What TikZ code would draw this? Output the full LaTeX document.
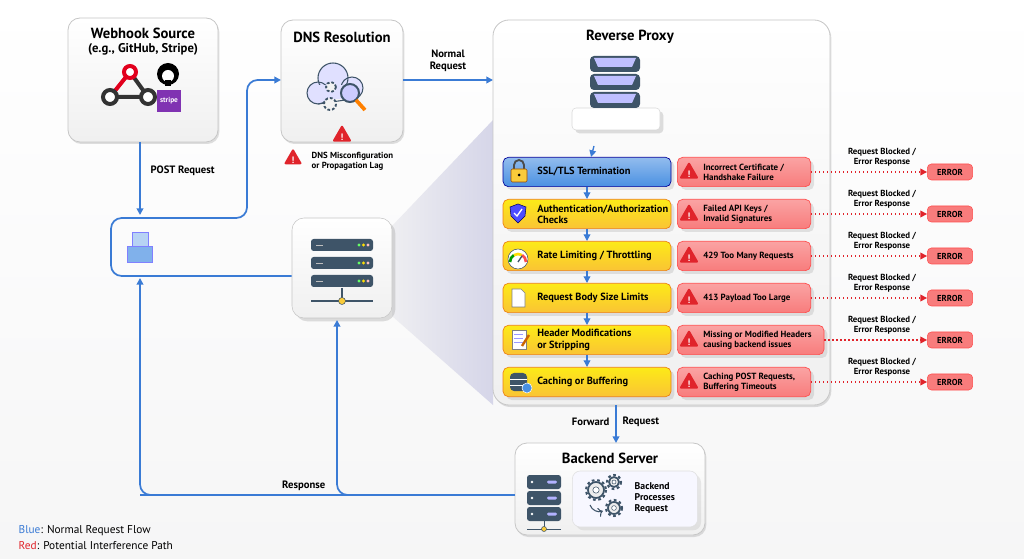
\documentclass[tikz,border=0pt]{standalone}
\usepackage{fontspec}
\setmainfont{PT Sans}
\usetikzlibrary{shapes.geometric,arrows.meta,shadows,calc}
\definecolor{flow}{HTML}{3A7BD5}
\definecolor{errred}{HTML}{E0242B}
\definecolor{redfill}{HTML}{F87C7C}
\definecolor{yel}{HTML}{F9CB3A}
\definecolor{bluest}{HTML}{4A90E2}
\definecolor{slate}{HTML}{3E5468}
\tikzset{
 card/.style={draw=gray!45,line width=0.6pt,rounded corners=9pt,fill=white,top color=white,bottom color=gray!12,drop shadow={opacity=0.25,shadow xshift=1pt,shadow yshift=-1.5pt}},
 stage/.style={draw=orange!70!brown,line width=0.5pt,rounded corners=4pt,top color=yellow!60!yel,bottom color=yel!90!orange,minimum width=126pt,minimum height=22pt,drop shadow={opacity=0.2}},
 stageb/.style={stage,draw=blue!60!black,top color=bluest!60,bottom color=bluest},
 stxt/.style={anchor=west,font=\bfseries\fontsize{7.8}{8.4}\selectfont,align=left,inner sep=0pt},
 err/.style={draw=red!70,line width=0.5pt,rounded corners=4pt,top color=redfill!70,bottom color=redfill,minimum height=22pt,drop shadow={opacity=0.2}},
 etxt/.style={anchor=west,font=\bfseries\fontsize{6.7}{7.5}\selectfont,align=left,inner sep=0pt},
 errbox/.style={draw=red!70,rounded corners=3pt,fill=redfill,minimum width=34pt,minimum height=12pt,font=\bfseries\fontsize{6.5}{7}\selectfont},
 flowa/.style={draw=flow,line width=1.3pt,-{Triangle[length=5pt,width=5pt]}},
 flowl/.style={draw=flow,line width=1.3pt,rounded corners=8pt},
 dotarr/.style={draw=errred,line width=1pt,dotted,-{Triangle[length=5pt,width=5pt]}},
 lbl/.style={font=\bfseries\fontsize{8}{9}\selectfont,align=center},
 ttl/.style={font=\bfseries\fontsize{11}{12}\selectfont,align=center},
 small/.style={font=\bfseries\fontsize{6.6}{7.4}\selectfont,align=center},
 warn/.style={regular polygon,regular polygon sides=3,fill=errred,inner sep=0pt,minimum size=#1,rounded corners=1.5pt},
}
\newcommand{\warnat}[2]{\node[warn=#2] at (#1) {}; \node[text=white,font=\bfseries\fontsize{7}{7}\selectfont] at ($(#1)+(0,1.5)$) {!};}
\newcommand{\srvunit}[3]{% x y width
  \fill[slate,rounded corners=2pt] (#1-#3/2,#2-6) rectangle (#1+#3/2,#2+6);
  \fill[green!60] (#1+#3/2-14,#2) circle (1.6);\fill[yellow!80!orange] (#1+#3/2-9.5,#2) circle (1.6);\fill[pink] (#1+#3/2-5,#2) circle (1.6);
  \draw[gray!50,line width=0.6pt] (#1-#3/2+5,#2)--(#1-#3/2+12,#2);}
\begin{document}
\begin{tikzpicture}[x=0.75pt,y=-0.75pt]
\shade[top color=white,bottom color=blue!2!gray!7] (0,0) rectangle (1024,559);
\useasboundingbox (0,0) rectangle (1024,559);

% cone
\shade[left color=blue!10!gray!12,right color=blue!30!gray!25] (392,226) -- (493,120) -- (493,405) -- (392,316) -- cycle;

% cards
\draw[card] (68,18) rectangle (218,142);
\node[ttl] (wh) at (143,33) {Webhook Source};
\node[font=\bfseries\fontsize{9.5}{10}\selectfont] at (143,49) {(e.g., GitHub, Stripe)};
% webhook icon
\draw[line width=3pt,gray!40!black] (110,97) -- (148,97) (130,72)--(148,97);
\draw[line width=3pt,red!55!purple] (110,97) -- (130,72);
\draw[line width=3pt,red!55!purple,fill=white] (130,72) circle (6);
\draw[line width=3pt,gray!40!black,fill=white] (110,97) circle (7);
\draw[line width=3pt,gray!40!black,fill=white] (148,97) circle (7);
\fill[black] (168,74) circle (11); \fill[white] (168,76) circle (6); \fill[black] (165,80) rectangle (171,86);
\fill[blue!50!purple!80] (157,90) rectangle (181,112); \node[text=white,font=\bfseries\fontsize{5.5}{6}\selectfont] at (169,101) {stripe};

\draw[card] (281,20) rectangle (403,142);
\node[ttl] (dns) at (342,37) {DNS Resolution};
\fill[blue!12,draw=slate,line width=0.8pt] (318,93) circle (11) (333,78) circle (15) (352,88) circle (11);
\fill[blue!12] (318,85) rectangle (352,99);
\draw[slate,line width=0.8pt] (318,104)--(352,99);
\draw[slate,line width=1.4pt,fill=gray!10,dash pattern=on 2pt off 1.5pt] (331,87) circle (5);
\draw[slate,line width=1.4pt,fill=gray!10,dash pattern=on 2pt off 1.5pt] (330,104) circle (6);
\draw[slate,line width=1.5pt,fill=blue!20] (350,93) circle (9);
\draw[orange,line width=2.8pt] (356,100)--(365,110);
\warnat{342,136}{17pt}
\warnat{293,159}{16pt}
\node[small,align=left,anchor=west] (dnsw) at (307,161) {DNS Misconfiguration\\or Propagation Lag};

% reverse proxy
\draw[card,rounded corners=12pt] (493,20) rectangle (830,405);
\node[ttl] (rp) at (630,37) {Reverse Proxy};
\draw[gray!30,fill=white,rounded corners=3pt,drop shadow={opacity=0.25}] (572,108) rectangle (660,130);
\foreach \yy in {64,82,100}{\fill[slate,rounded corners=3pt] (590,\yy-8) rectangle (640,\yy+8);\fill[blue!25] (594,\yy-6) -- (636,\yy-6) -- (632,\yy+3) -- (598,\yy+3)--cycle;}

% stages
\node[stageb] (s1) at (587,172) {};
\node[stage] (s2) at (587,214) {};
\node[stage] (s3) at (587,256) {};
\node[stage] (s4) at (587,298) {};
\node[stage] (s5) at (587,340) {};
\node[stage] (s6) at (587,382) {};
\node[stxt] (t1) at (537,172) {SSL/TLS Termination};
\node[stxt] (t2) at (537,214) {Authentication/Authorization\\Checks};
\node[stxt] (t3) at (537,256) {Rate Limiting / Throttling};
\node[stxt] (t4) at (537,298) {Request Body Size Limits};
\node[stxt] (t5) at (537,340) {Header Modifications\\or Stripping};
\node[stxt] (t6) at (537,382) {Caching or Buffering};
\foreach \a/\b in {s1/s2,s2/s3,s3/s4,s4/s5,s5/s6}{\draw[flowa,line width=1pt] (\a) -- (\b);}
\draw[flowa,line width=1pt] (594,146) -- (s1);
% stage icons
\draw[gray!60!black,line width=1.4pt] (514,170) -- (514,165) arc (180:360:5) -- (524,170);
\fill[yel,draw=orange!60!black,rounded corners=1pt] (511,169) rectangle (527,182);
\fill[black] (519,175) circle (1.5);
\fill[blue!70,draw=blue!40!black] (510,207) -- (518,204) -- (526,207) -- (525,216) -- (518,223) -- (511,216) -- cycle;
\draw[white,line width=1pt] (514,213)--(517,216)--(522,209);
\fill[white,draw=slate] (518,259) circle (10);
\draw[line width=2pt,green!60!black] (510,262) arc (180:240:8);\draw[line width=2pt,yellow!80!orange] (514,255.1) arc (240:300:8);\draw[line width=2pt,red!70] (522,255.1) arc (300:360:8);
\draw[slate,line width=1pt] (518,262)--(522,256);
\fill[white,draw=gray] (512,289) -- (521,289) -- (525,293) -- (525,307) -- (512,307) -- cycle;
\fill[white,draw=gray] (512,330) rectangle (526,349); \foreach \yy in {334,338,342}{\draw[blue!40] (514,\yy)--(523,\yy);}
\draw[orange!80!black,line width=1.8pt] (522,346)--(529,335);
\fill[slate,rounded corners=3pt] (510,373) rectangle (527,391); \draw[white,line width=0.6pt] (510,379)--(527,379) (510,385)--(527,385);
\fill[bluest,draw=white] (527,388) circle (5);

% red boxes
\foreach \n/\y/\w/\t in {1/172/100/{Incorrect Certificate /\\Handshake Failure},2/214/100/{Failed API Keys /\\Invalid Signatures},3/256/100/{429 Too Many Requests},4/298/100/{413 Payload Too Large},5/340/110/{Missing or Modified Headers\\causing backend issues},6/382/100/{Caching POST Requests,\\Buffering Timeouts}}{
 \node[err,minimum width=\w pt,anchor=west] (r\n) at (677,\y) {};
 \node[etxt] (x\n) at (703,\y) {\t};
 \warnat{689,\y+1}{17pt}
 \node[errbox] (e\n) at (950,\y) {ERROR};
 \draw[dotarr] (r\n.east) -- (e\n.west);
 \node[small] (b\n) at (882,\y-15) {Request Blocked /\\Error Response};
}

% left loop
\node[draw=gray!45,rounded corners=9pt,top color=white,bottom color=gray!12,drop shadow={opacity=0.25},minimum width=75pt,minimum height=75pt] (lb) at (342,268) {};
\foreach \yy in {245,263,281}{\srvunit{342}{\yy}{62}}
\draw[slate,line width=0.8pt] (311,301)--(373,301); \draw[slate,line width=0.8pt] (342,288)--(342,301);
\fill[yel,draw=slate] (342,301) circle (3.5);
\fill[bluest!70,draw=blue!50] (127,246) rectangle (152,262);
\fill[bluest!40,draw=blue!50] (132,232) rectangle (148,246);
\draw[flowa] (140,142) -- node[lbl,right=4pt,pos=0.4]{POST Request} (140,215);
\draw[flowl] (lb.west |- 0,276) -- (111,276) -- (111,218) -- (247,218) -- (247,80) -- (262,80);
\draw[flowa] (262,80) -- (281,80);
\draw[flowa] (403,80) -- node[lbl,above=2pt]{Normal\\Request} (493,80);

% backend
\draw[card] (515,443) rectangle (705,535);
\draw[flowa] (616,405) -- node[lbl,pos=0.45,left=1pt]{Forward} node[lbl,pos=0.45,right=1pt]{Request} (616,443);
\node[ttl] (be) at (610,458) {Backend Server};
\foreach \yy in {482,498,514}{\fill[slate,rounded corners=2pt] (527,\yy-7) rectangle (561,\yy+7);\fill[white] (532,\yy) circle (1.3);\fill[blue!30,rounded corners=1pt] (547,\yy-1.5) rectangle (557,\yy+1.5);}
\draw[slate] (527,529)--(561,529) (544,521)--(544,529); \fill[yel,draw=slate] (544,529) circle (2.5);
\node[draw=gray!25,rounded corners=6pt,fill=blue!3,minimum width=94pt,minimum height=42pt,drop shadow={opacity=0.15}] (bi) at (635,499) {};
\foreach \cx/\cy/\r in {596/490/8,614/482/5,614/508/6}{\draw[slate,line width=1.3pt,fill=gray!15] (\cx,\cy) circle (\r); \draw[slate,line width=1.6pt,dash pattern=on 2pt off 2pt] (\cx,\cy) circle (\r+2);\fill[white,draw=slate] (\cx,\cy) circle (\r/2.5);}
\draw[slate,->,line width=0.8pt] (590,505) arc (160:70:10);
\node[small,font=\bfseries\fontsize{7.3}{8.2}\selectfont,align=left,anchor=west] (bt) at (630,498) {Backend\\Processes\\Request};

% response path
\draw[flowl] (515,495) -- (140,495);
\draw[flowa,rounded corners=8pt] (340,495) -- (337,495) -- (337,320);
\draw[flowa,rounded corners=8pt] (160,495) -- (140,495) -- (140,278);
\node[lbl,anchor=east] at (330,486) {Response};

% legend
\node[anchor=west,font=\fontsize{8.5}{9}\selectfont] at (14,531) {\textcolor{flow}{Blue}: Normal Request Flow};
\node[anchor=west,font=\fontsize{8.5}{9}\selectfont] at (14,546) {\textcolor{errred}{Red}: Potential Interference Path};
\end{tikzpicture}
\end{document}
